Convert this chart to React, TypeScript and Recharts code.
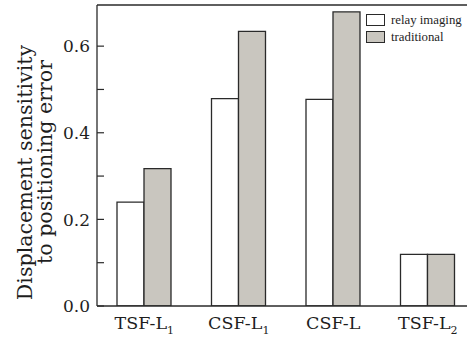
import React from "react";
import { BarChart, Bar, XAxis, YAxis, ReferenceLine } from "recharts";

const categories = ["TSF-L1", "CSF-L1", "CSF-L", "TSF-L2"];
const relayImaging = [0.24, 0.479, 0.477, 0.119];
const traditional = [0.317, 0.634, 0.679, 0.119];
const yTicks = [0, 0.1, 0.2, 0.3, 0.4, 0.5, 0.6];
const labeledTicks = [0, 0.2, 0.4, 0.6];
const yMax = 0.695;
const seriesNames = ["relay imaging", "traditional"];
const yLabelLines = ["Displacement sensitivity", "to positioning error"];

const data = categories.map((c, i) => ({
  name: c,
  relay: relayImaging[i],
  trad: traditional[i],
}));

const AXIS = "#2a2a2a";
const GREY = "#c9c6bf";
const TEXT = "#1e1e1e";

const YTick = (props: any) => {
  const { x, y, payload } = props;
  const v = payload.value;
  const show = labeledTicks.some((t) => Math.abs(t - v) < 1e-9);
  const ax = x + 7;
  return (
    <g>
      <line x1={ax} x2={ax + 7} y1={y} y2={y} stroke={AXIS} strokeWidth={1.2} />
      {show && (
        <text
          x={x}
          y={y}
          dy="0.36em"
          textAnchor="end"
          fontFamily="DejaVu Serif"
          fontSize={17}
          fill={TEXT}
        >
          {v.toFixed(1)}
        </text>
      )}
    </g>
  );
};

const XTick = (props: any) => {
  const { x, y, payload } = props;
  const m = /^(.*?)(\d)$/.exec(payload.value);
  const main = m ? m[1] : payload.value;
  const sub = m ? m[2] : "";
  return (
    <text
      x={x}
      y={y}
      dy={15}
      textAnchor="middle"
      fontFamily="DejaVu Serif"
      fontSize={17.5}
      fill={TEXT}
    >
      {main}
      {sub && (
        <tspan fontSize={11} dy={5}>
          {sub}
        </tspan>
      )}
    </text>
  );
};

const YLabel = (props: any) => {
  const vb = props.viewBox || { x: 0, y: 5, width: 97, height: 301 };
  const cy = vb.y + vb.height / 2;
  const l1x = vb.x + 31.5;
  const l1y = cy + 17;
  const l2x = vb.x + 52;
  const l2y = cy + 6.5;
  return (
    <g>
      <text
        x={l1x}
        y={l1y}
        transform={`rotate(-90, ${l1x}, ${l1y})`}
        textAnchor="middle"
        fontFamily="DejaVu Serif"
        fontSize={20.6}
        fill={TEXT}
      >
        {yLabelLines[0]}
      </text>
      <text
        x={l2x}
        y={l2y}
        transform={`rotate(-90, ${l2x}, ${l2y})`}
        textAnchor="middle"
        fontFamily="DejaVu Serif"
        fontSize={20.6}
        fill={TEXT}
      >
        {yLabelLines[1]}
      </text>
    </g>
  );
};

const LegendBox = () => {
  const fills = ["#ffffff", GREY];
  return (
    <div
      style={{
        position: "absolute",
        left: 366,
        top: 11,
        fontFamily: "Liberation Serif",
        fontSize: 12.8,
        color: TEXT,
        lineHeight: "14px",
      }}
    >
      {seriesNames.map((n) => n).map((n, i) => (
        <div
          key={n}
          style={{ display: "flex", alignItems: "center", height: 17.5 }}
        >
          <div
            style={{
              width: 17,
              height: 10,
              background: fills[i],
              border: `1.3px solid ${AXIS}`,
              marginRight: 6,
            }}
          />
          <span>{n}</span>
        </div>
      ))}
    </div>
  );
};

export default function App() {
  return (
    <div
      style={{
        position: "absolute",
        left: 0,
        top: 0,
        width: 467,
        height: 339,
        overflow: "hidden",
        background: "#fff",
      }}
    >
      <BarChart
        width={480}
        height={339}
        data={data}
        margin={{ top: 5, right: 5, bottom: 0, left: 0 }}
        barGap={0}
        barSize={27}
      >
        <XAxis
          dataKey="name"
          height={33}
          tickLine={false}
          axisLine={{ stroke: AXIS, strokeWidth: 1.3 }}
          tick={<XTick />}
          interval={0}
        />
        <YAxis
          width={97}
          domain={[0, yMax]}
          ticks={yTicks}
          allowDataOverflow
          tickLine={false}
          tickSize={0}
          tickMargin={7}
          axisLine={{ stroke: AXIS, strokeWidth: 1.3 }}
          tick={<YTick />}
          interval={0}
          label={{ content: <YLabel /> }}
        />
        <ReferenceLine y={yMax} stroke={AXIS} strokeWidth={1.3} ifOverflow="visible" />
        <Bar
          dataKey="relay"
          name={seriesNames[0]}
          fill="#ffffff"
          stroke={AXIS}
          strokeWidth={1.3}
          isAnimationActive={false}
        />
        <Bar
          dataKey="trad"
          name={seriesNames[1]}
          fill={GREY}
          stroke={AXIS}
          strokeWidth={1.3}
          isAnimationActive={false}
        />
      </BarChart>
      <LegendBox />
    </div>
  );
}
